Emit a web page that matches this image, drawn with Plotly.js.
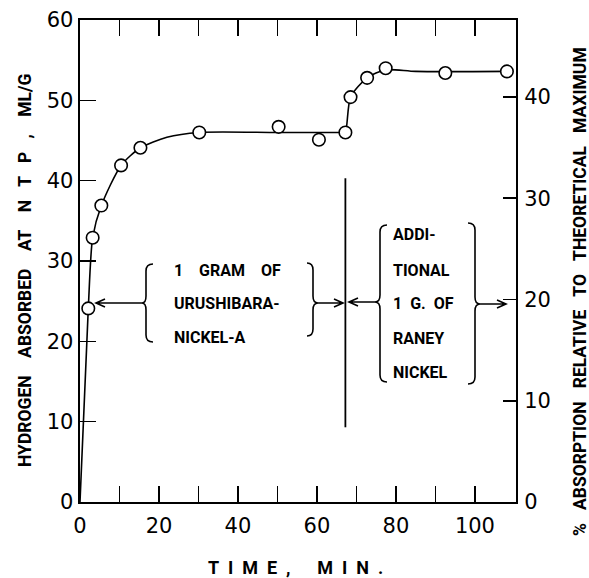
<!DOCTYPE html>
<html><head><meta charset="utf-8">
<script src="https://cdn.plot.ly/plotly-3.0.1.min.js"></script>
<style>body{margin:0;background:#fff}</style>
</head><body><div id="chart" style="width:589px;height:578px"></div>
<script>
// Measured points: time (min) and hydrogen absorbed (ml/g at NTP)
const timeMin = [2.1, 3.2, 5.4, 10.4, 15.3, 30.2, 50.3, 60.5, 67.2, 68.5, 72.7, 77.4, 92.5, 108.1];
const hydrogenMlG = [24.1, 32.9, 36.9, 41.9, 44.1, 46.0, 46.7, 45.1, 46.0, 50.4, 52.8, 54.0, 53.4, 53.6];
// Hand-drawn smooth curve through the data
const curveTime = [0, 2.1, 3.2, 5.4, 10.4, 15.3, 22, 30.2, 50, 66.6, 67.2, 68.5, 72.7, 77.4, 85, 108.1];
const curveH = [0, 24.1, 32.9, 36.9, 41.9, 44.1, 45.4, 46.0, 46.0, 46.0, 46.0, 50.4, 52.8, 53.8, 53.6, 53.6];
// Catalyst addition time (vertical marker)
const additionTime = 67.2;
const additionSpan = [9.3, 40.3];
// Tick labels
const xTicks = [0, 20, 40, 60, 80, 100];
const xMinorTicks = [10, 30, 50, 70, 90];
const yTicks = [0, 10, 20, 30, 40, 50, 60];
const y2Ticks = [0, 10, 20, 30, 40];
const nb = '\u00a0';
const sp = n => nb.repeat(n);
const labels1 = ['1' + sp(4) + 'GRAM' + sp(4) + 'OF', 'URUSHIBARA-', 'NICKEL-A'];
const labels2 = ['ADDI-', 'TIONAL', '1' + sp(2) + 'G.' + sp(2) + 'OF', 'RANEY', 'NICKEL'];
const yTitle = 'HYDROGEN' + sp(4) + 'ABSORBED' + sp(4) + 'AT' + sp(4) + 'N' + sp(3) + 'T' + sp(3) + 'P' + sp(3) + ',' + sp(4) + 'ML/G';
const y2Title = '%' + sp(3) + 'ABSORPTION' + sp(3) + 'RELATIVE' + sp(3) + 'TO' + sp(3) + 'THEORETICAL' + sp(3) + 'MAXIMUM';
const xTitle = ['T', 'I', 'M', 'E', ','].join(sp(2)) + sp(6) + ['M', 'I', 'N', '.'].join(sp(2));

// plot geometry (pixels)
const L = 80, T = 20, W = 436, H = 482;
const XR = [0, 110.4], YR = [0, 60], Y2R = [0, 47.6];
const X = px => (px - L) / W * (XR[1] - XR[0]);
const Y = py => (T + H - py) / H * (YR[1] - YR[0]);
const PX = px => (px - L) / W;
const PY = py => (T + H - py) / H;
const pt = (px, py) => X(px).toFixed(3) + ',' + Y(py).toFixed(3);

function brace(x0, yTop, yBot, yMid, d, e) {
  const r = 7;
  return 'M' + pt(x0 + e, yTop) + ' Q' + pt(x0, yTop) + ' ' + pt(x0, yTop + r) +
    ' L' + pt(x0, yMid - r) + ' Q' + pt(x0, yMid) + ' ' + pt(x0 + d, yMid) +
    ' Q' + pt(x0, yMid) + ' ' + pt(x0, yMid + r) +
    ' L' + pt(x0, yBot - r) + ' Q' + pt(x0, yBot) + ' ' + pt(x0 + e, yBot);
}
function arrow(xFrom, xTo, y) {
  const s = xTo > xFrom ? -1 : 1;
  return 'M' + pt(xFrom, y) + ' L' + pt(xTo, y) +
    ' M' + pt(xTo + s * 9, y - 4) + ' L' + pt(xTo, y) + ' L' + pt(xTo + s * 9, y + 4);
}
const lineStyle = {color: 'black', width: 1.6};
const shapes = [
  {type: 'line', xref: 'x', yref: 'y', x0: additionTime, x1: additionTime, y0: additionSpan[0], y1: additionSpan[1], line: {color: 'black', width: 1.8}},
  {type: 'path', xref: 'x', yref: 'y', path: brace(146, 264, 342, 303, -4, 7), line: lineStyle},
  {type: 'path', xref: 'x', yref: 'y', path: brace(313, 263, 336, 303, 5, -6), line: lineStyle},
  {type: 'path', xref: 'x', yref: 'y', path: brace(380, 225, 382, 302, -5, 7), line: lineStyle},
  {type: 'path', xref: 'x', yref: 'y', path: brace(475, 223, 384, 304, 5, -7), line: lineStyle},
  {type: 'path', xref: 'x', yref: 'y', path: arrow(142, 96, 303), line: lineStyle},
  {type: 'path', xref: 'x', yref: 'y', path: arrow(318, 343, 303), line: lineStyle},
  {type: 'path', xref: 'x', yref: 'y', path: arrow(375, 349, 302), line: lineStyle},
  {type: 'path', xref: 'x', yref: 'y', path: arrow(480, 506, 304), line: lineStyle}
];

const textFont = {family: 'Roboto, sans-serif', size: 16, color: 'black', weight: 'bold'};
const titleFont = {family: 'Roboto, sans-serif', size: 17.5, color: 'black', weight: 'bold'};
const annotations = [];
const y1pos = [270, 303, 337];
labels1.forEach((t, i) => annotations.push({xref: 'paper', yref: 'paper', x: PX(172), y: PY(y1pos[i]), xanchor: 'left', yanchor: 'middle', text: t, showarrow: false, font: textFont}));
const y2pos = [235, 270, 303, 338, 372];
labels2.forEach((t, i) => annotations.push({xref: 'paper', yref: 'paper', x: PX(391), y: PY(y2pos[i]), xanchor: 'left', yanchor: 'middle', text: t, showarrow: false, font: textFont}));
annotations.push({xref: 'paper', yref: 'paper', x: PX(25), y: PY(271), textangle: -90, xanchor: 'center', yanchor: 'middle', showarrow: false, font: titleFont, text: yTitle});
annotations.push({xref: 'paper', yref: 'paper', x: PX(580), y: PY(292), textangle: -90, xanchor: 'center', yanchor: 'middle', showarrow: false, font: titleFont, text: y2Title});
annotations.push({xref: 'paper', yref: 'paper', x: PX(295), y: PY(567), xanchor: 'center', yanchor: 'middle', showarrow: false, font: Object.assign({}, titleFont, {size: 18}), text: xTitle});

const tickFont = {family: 'DejaVu Sans, sans-serif', size: 21, color: 'black'};
const traces = [
  {x: curveTime, y: curveH, mode: 'lines', line: {color: 'black', width: 1.6, shape: 'spline', smoothing: 0.7}, hoverinfo: 'skip', showlegend: false},
  {x: timeMin, y: hydrogenMlG, mode: 'markers', marker: {symbol: 'circle', size: 12.5, color: 'white', line: {color: 'black', width: 1.6}}, showlegend: false},
  {x: [0], y: [0], yaxis: 'y2', mode: 'markers', marker: {opacity: 0}, hoverinfo: 'skip', showlegend: false}
];
const layout = {
  width: 589, height: 578,
  margin: {l: L, r: 589 - L - W, t: T, b: 578 - T - H, pad: 0},
  paper_bgcolor: 'white', plot_bgcolor: 'white',
  showlegend: false,
  xaxis: {range: XR, tickvals: xTicks, ticktext: xTicks.map(String), ticks: 'inside', ticklen: 16, tickwidth: 1.6, tickcolor: 'black',
    minor: {tickvals: xMinorTicks, ticks: 'inside', ticklen: 7, tickwidth: 1.6, tickcolor: 'black'},
    showline: true, linecolor: 'black', linewidth: 2, mirror: 'allticks', showgrid: false, zeroline: false,
    tickfont: tickFont, ticklabelstandoff: 4},
  yaxis: {range: YR, tickvals: yTicks, ticktext: yTicks.map(String), ticks: 'inside', ticklen: 16, tickwidth: 1.6, tickcolor: 'black',
    showline: true, linecolor: 'black', linewidth: 2.4, showgrid: false, zeroline: false, tickfont: tickFont, ticklabelstandoff: 0},
  yaxis2: {range: Y2R, overlaying: 'y', side: 'right', tickvals: y2Ticks, ticktext: y2Ticks.map(String), ticks: 'inside', ticklen: 13, tickwidth: 1.6, tickcolor: 'black',
    showline: true, linecolor: 'black', linewidth: 2, showgrid: false, zeroline: false, tickfont: tickFont, ticklabelstandoff: 2},
  shapes: shapes,
  annotations: annotations
};
Plotly.newPlot('chart', traces, layout, {staticPlot: true, displayModeBar: false});
</script></body></html>
